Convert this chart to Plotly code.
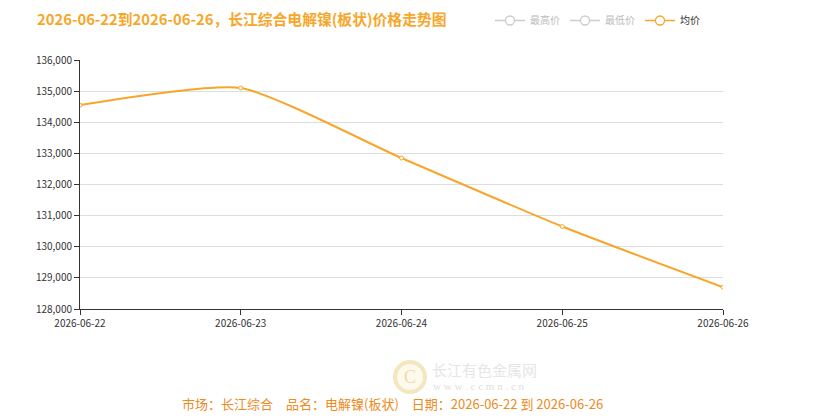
import plotly.graph_objects as go

dates = ["2026-06-22", "2026-06-23", "2026-06-24", "2026-06-25", "2026-06-26"]
avg_price = [134550, 135100, 132850, 130650, 128700]
y_ticks = [128000, 129000, 130000, 131000, 132000, 133000, 134000, 135000, 136000]
legend_names = ["最高价", "最低价", "均价"]

ORANGE = "#F7A62A"
GREY = "#cccccc"
fig = go.Figure()
fig.add_trace(go.Scatter(x=dates, y=avg_price, name="均价", mode="lines+markers", showlegend=False,
                         line=dict(color=ORANGE, width=2, shape="spline", smoothing=0.55),
                         marker=dict(symbol="circle", size=4, color="white", line=dict(color=ORANGE, width=1))))
for name in legend_names:
    col = ORANGE if name == "均价" else GREY
    txt_col = "#333333" if name == "均价" else "#bbbbbb"
    fig.add_trace(go.Scatter(x=[None], y=[None], name=f"<span style='color:{txt_col}'>{name}</span>",
                             mode="lines+markers",
                             line=dict(color=col, width=1.5),
                             marker=dict(symbol="circle", size=9, color="white", line=dict(color=col, width=1.3))))

fig.update_layout(
    width=818, height=419,
    margin=dict(l=80, r=95, t=60, b=110),
    paper_bgcolor="white", plot_bgcolor="white",
    font=dict(family="Noto Sans CJK SC, Microsoft YaHei, sans-serif", size=10, color="#333"),
    showlegend=True,
    legend=dict(orientation="h", x=490 / 818, y=1 - 6 / 419, xref="container", yref="container",
                yanchor="top", xanchor="left", itemwidth=30,
                bgcolor="rgba(0,0,0,0)", itemclick=False, itemdoubleclick=False),
    title=dict(text="<b>2026-06-22到2026-06-26，长江综合电解镍(板状)价格走势图</b>",
               x=37 / 818, xanchor="left", y=1 - 20 / 419, yanchor="middle",
               font=dict(size=14.8, color=ORANGE)),
)
fig.update_xaxes(type="category", range=[0, 4], showgrid=False, showline=True,
                 linecolor="#333", linewidth=1, ticks="outside", ticklen=5, tickcolor="#333",
                 tickfont=dict(size=10, color="#333"), fixedrange=True)
fig.update_yaxes(range=[128000, 136000], tickvals=y_ticks, tickformat=",d", showgrid=True,
                 gridcolor="#dddddd", gridwidth=1, showline=True, linecolor="#333", linewidth=1,
                 ticks="outside", ticklen=5, tickcolor="#333", tickfont=dict(size=10, color="#333"),
                 zeroline=False, fixedrange=True)


def px_x(p):
    return (p - 80) / 643


def px_y(p):
    return (309 - p) / 249


# watermark
fig.add_shape(type="circle", xref="paper", yref="paper",
              x0=px_x(395), x1=px_x(425), y0=px_y(392), y1=px_y(362),
              line=dict(color="#F3E7C0", width=4), fillcolor="rgba(250,240,210,0.4)", layer="above")
fig.add_annotation(text="C", xref="paper", yref="paper", x=px_x(410), y=px_y(377),
                   xanchor="center", yanchor="middle",
                   showarrow=False, font=dict(size=18, color="#EFDCA6", family="Arial Black"))
fig.add_annotation(text="长江有色金属网", xref="paper", yref="paper", x=px_x(430), y=px_y(369),
                   xanchor="left", yanchor="middle", showarrow=False, font=dict(size=15, color="#E6E6E6"))
fig.add_annotation(text="w w w . c c m n . c n", xref="paper", yref="paper", x=px_x(431), y=px_y(386),
                   xanchor="left", yanchor="middle", showarrow=False,
                   font=dict(size=11, color="#E0E0E0", family="Liberation Serif"))
fig.add_annotation(text="市场：长江综合　品名：电解镍(板状)　日期：2026-06-22 到 2026-06-26",
                   xref="paper", yref="paper", x=px_x(392), y=px_y(403),
                   xanchor="center", yanchor="middle",
                   showarrow=False, font=dict(size=13, color="#EE8A22"))

fig.write_html("out.html")
